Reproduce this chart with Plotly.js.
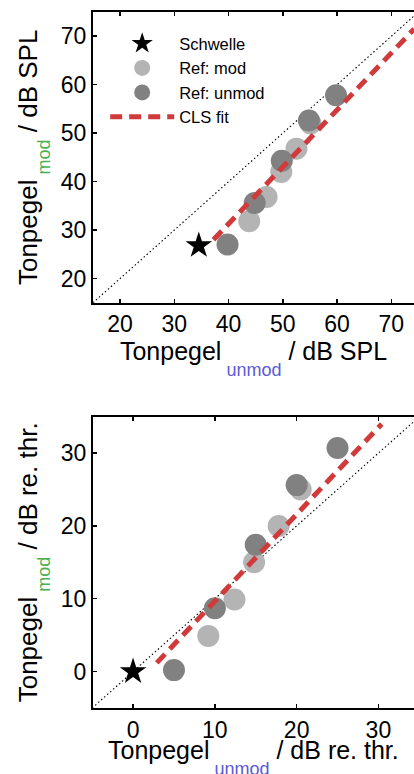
<!DOCTYPE html>
<html>
<head>
<meta charset="utf-8">
<script src="https://cdn.plot.ly/plotly-3.0.1.min.js"></script>
<style>html,body{margin:0;padding:0;background:#fff;}#chart{width:414px;height:774px;}</style>
</head>
<body>
<div id="chart"></div>
<script>
// ---- data (top panel: dB SPL) ----
var topThreshX = [34.5];
var topThreshY = [26.8];
var topModX = [43.8, 47.0, 49.7, 52.5, 55.1];
var topModY = [31.8, 36.8, 42.0, 46.8, 52.0];
var topUnmodX = [39.8, 44.8, 49.8, 54.8, 59.8];
var topUnmodY = [27.0, 35.6, 44.3, 52.6, 57.8];
var topFitX = [37.2, 74.2];
var topFitY = [28.0, 71.5];
var topDiagX = [15, 75];
var topDiagY = [15, 75];
var topTicks = [20, 30, 40, 50, 60, 70];

// ---- data (bottom panel: dB re. thr.) ----
var botThreshX = [0];
var botThreshY = [0];
var botModX = [9.2, 12.4, 14.8, 17.8, 20.5];
var botModY = [4.9, 9.9, 15.0, 20.0, 25.0];
var botUnmodX = [5.0, 10.0, 15.0, 20.0, 25.0];
var botUnmodY = [0.2, 8.7, 17.4, 25.6, 30.7];
var botFitX = [2.9, 30.4];
var botFitY = [1.2, 34.0];
var botDiagX = [-5, 35];
var botDiagY = [-5, 35];
var botTicksX = [0, 10, 20, 30];
var botTicksY = [0, 10, 20, 30];

var FONT = 'Liberation Sans, Arial, Helvetica, sans-serif';
var LIGHT = '#b4b4b4', DARK = '#818181', RED = '#d03a3a';
var GREEN = '#4caf50', BLUE = '#5b5bd6';

function diag(x, y, xa, ya) {
  return {x: x, y: y, xaxis: xa, yaxis: ya, mode: 'lines', showlegend: false, hoverinfo: 'skip',
          line: {color: 'black', width: 1.1, dash: '1.5px,2.5px'}};
}
function pts(x, y, xa, ya, color, name, show, rank) {
  return {x: x, y: y, xaxis: xa, yaxis: ya, mode: 'markers', name: name, showlegend: show, legendrank: rank,
          marker: {color: color, size: 22, line: {width: 0}}};
}
function fit(x, y, xa, ya, show) {
  return {x: x, y: y, xaxis: xa, yaxis: ya, mode: 'lines', name: 'CLS fit', showlegend: show, legendrank: 4,
          line: {color: RED, width: 5, dash: '12px,7px'}};
}
function star(x, y, xa, ya, show) {
  return {x: x, y: y, xaxis: xa, yaxis: ya, mode: 'markers', name: 'Schwelle', showlegend: show, legendrank: 1,
          marker: {symbol: 'star', color: 'black', size: 20, line: {width: 0}}};
}

var data = [
  diag(topDiagX, topDiagY, 'x', 'y'),
  pts(topModX, topModY, 'x', 'y', LIGHT, 'Ref: mod', true, 2),
  pts(topUnmodX, topUnmodY, 'x', 'y', DARK, 'Ref: unmod', true, 3),
  fit(topFitX, topFitY, 'x', 'y', true),
  star(topThreshX, topThreshY, 'x', 'y', true),
  diag(botDiagX, botDiagY, 'x2', 'y2'),
  pts(botModX, botModY, 'x2', 'y2', LIGHT, 'Ref: mod', false, 2),
  pts(botUnmodX, botUnmodY, 'x2', 'y2', DARK, 'Ref: unmod', false, 3),
  fit(botFitX, botFitY, 'x2', 'y2', false),
  star(botThreshX, botThreshY, 'x2', 'y2', false)
];

function ax(extra) {
  var a = {showgrid: false, zeroline: false, showline: true, linecolor: 'black', linewidth: 2,
           ticks: 'inside', ticklen: 4, tickwidth: 1.5, tickcolor: 'black',
           tickfont: {family: FONT, size: 23, color: 'black'}, tickmode: 'array'};
  for (var k in extra) a[k] = extra[k];
  return a;
}
function ttl(sub, col, unit, shift) {
  return 'Tonpegel<span style="font-size:18px;fill:' + col + ';baseline-shift:-' + shift + 'px">&nbsp;' + sub +
         '</span>&nbsp;/&nbsp;' + unit;
}
var TFX = {family: FONT, size: 25, color: 'black'};
var TFY = {family: FONT, size: 26, color: 'black'};

var layout = {
  width: 414, height: 774,
  margin: {l: 92.7, r: 0, t: 11.7, b: 65.7, pad: 0},
  paper_bgcolor: 'white', plot_bgcolor: 'white',
  font: {family: FONT, color: 'black'},
  showlegend: true,
  legend: {x: 0.038, y: 0.9795, xanchor: 'left', yanchor: 'top', bgcolor: 'rgba(0,0,0,0)',
           font: {family: FONT, size: 16.5, color: 'black'}, itemwidth: 64, tracegroupgap: 0},
  xaxis: ax({domain: [0, 1], range: [15, 74.17], anchor: 'y', tickvals: topTicks, mirror: 'ticks',
             title: {text: ttl('unmod', BLUE, 'dB SPL', 16), font: TFX, standoff: 3}}),
  yaxis: ax({domain: [0.5823, 1], range: [15, 75], anchor: 'x', tickvals: topTicks, mirror: false,
             title: {text: ttl('mod', GREEN, 'dB SPL', 13), font: TFY, standoff: 16}}),
  xaxis2: ax({domain: [0, 1], range: [-4.9, 34.35], anchor: 'y2', tickvals: botTicksX, mirror: 'ticks'}),
  yaxis2: ax({domain: [0, 0.4186], range: [-5, 35], anchor: 'x2', tickvals: botTicksY, mirror: false,
             title: {text: ttl('mod', GREEN, 'dB re. thr.', 13), font: TFY, standoff: 16}}),
  annotations: [{
    text: ttl('unmod', BLUE, 'dB re. thr.', 16), font: TFX, showarrow: false,
    xref: 'x2 domain', yref: 'y2 domain', x: 0.5, y: 0, xanchor: 'center', yanchor: 'top', yshift: -26
  }]
};

Plotly.newPlot('chart', data, layout, {staticPlot: true, displayModeBar: false});
</script>
</body>
</html>
